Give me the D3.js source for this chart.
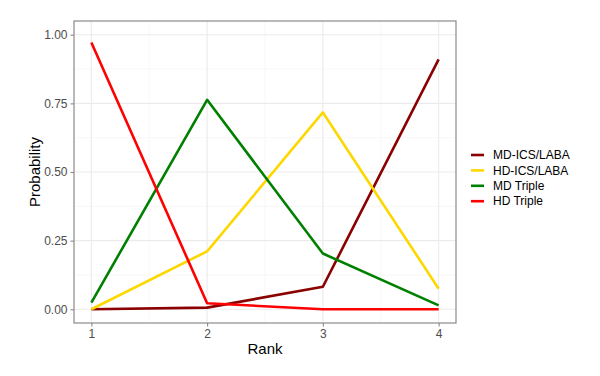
<!DOCTYPE html>
<html>
<head>
<meta charset="utf-8">
<script src="https://cdn.jsdelivr.net/npm/d3@7"></script>
<style>
  body { margin: 0; background: #fff; }
  text { font-family: "Liberation Sans", Arial, sans-serif; }
</style>
</head>
<body>
<div id="chart"></div>
<script>
// data
const ranks = [1, 2, 3, 4];
const seriesNames = ["MD-ICS/LABA", "HD-ICS/LABA", "MD Triple", "HD Triple"];
const seriesColors = ["#8B0000", "#FFD700", "#008000", "#FF0000"];
const mdIcsLaba = [0.000, 0.006, 0.082, 0.910];
const hdIcsLaba = [0.000, 0.211, 0.717, 0.075];
const mdTriple = [0.024, 0.763, 0.203, 0.014];
const hdTriple = [0.972, 0.022, 0.000, 0.000];
const yTicks = [0, 0.25, 0.5, 0.75, 1];

const seriesValues = [mdIcsLaba, hdIcsLaba, mdTriple, hdTriple];

const width = 600, height = 376;
const margin = {top: 21, right: 144, bottom: 53, left: 74};
const pw = width - margin.left - margin.right;
const ph = height - margin.top - margin.bottom;

const svg = d3.select("#chart").append("svg")
    .attr("width", width)
    .attr("height", height);

const g = svg.append("g")
    .attr("transform", `translate(${margin.left},${margin.top})`);

// ggplot-style expansion of 5%
const x = d3.scaleLinear().domain([0.85, 4.15]).range([0, pw]);
const y = d3.scaleLinear().domain([-0.05, 1.05]).range([ph, 0]);

// minor grid
const xMinor = [1.5, 2.5, 3.5];
const yMinor = [0.125, 0.375, 0.625, 0.875];
g.selectAll(".xminor").data(xMinor).enter().append("line")
    .attr("x1", d => x(d)).attr("x2", d => x(d))
    .attr("y1", 0).attr("y2", ph)
    .attr("stroke", "#f2f2f2").attr("stroke-width", 0.6);
g.selectAll(".yminor").data(yMinor).enter().append("line")
    .attr("y1", d => y(d)).attr("y2", d => y(d))
    .attr("x1", 0).attr("x2", pw)
    .attr("stroke", "#f2f2f2").attr("stroke-width", 0.6);

// major grid
g.selectAll(".xmajor").data(ranks).enter().append("line")
    .attr("x1", d => x(d)).attr("x2", d => x(d))
    .attr("y1", 0).attr("y2", ph)
    .attr("stroke", "#ebebeb").attr("stroke-width", 1.1);
g.selectAll(".ymajor").data(yTicks).enter().append("line")
    .attr("y1", d => y(d)).attr("y2", d => y(d))
    .attr("x1", 0).attr("x2", pw)
    .attr("stroke", "#ebebeb").attr("stroke-width", 1.1);

// lines
const line = d3.line()
    .x((d, i) => x(ranks[i]))
    .y(d => y(d));

seriesValues.forEach((vals, i) => {
    g.append("path")
        .datum(vals)
        .attr("d", line)
        .attr("fill", "none")
        .attr("stroke", seriesColors[i])
        .attr("stroke-width", 2.6)
        .attr("stroke-linejoin", "round");
});

// panel border
g.append("rect")
    .attr("width", pw).attr("height", ph)
    .attr("fill", "none")
    .attr("stroke", "#8a8a8a").attr("stroke-width", 1.2);

// axes
const xAxis = g.append("g")
    .attr("transform", `translate(0,${ph})`)
    .call(d3.axisBottom(x).tickValues(ranks).tickFormat(d3.format("d")).tickSize(3.5).tickPadding(3));
const yAxis = g.append("g")
    .call(d3.axisLeft(y).tickValues(yTicks).tickFormat(d3.format(".2f")).tickSize(3.5).tickPadding(3));

[xAxis, yAxis].forEach(a => {
    a.select(".domain").remove();
    a.selectAll(".tick line").attr("stroke", "#8a8a8a").attr("stroke-width", 1.1);
    a.selectAll(".tick text")
        .attr("fill", "#4d4d4d")
        .style("font-size", "12px")
        .style("font-family", "'Liberation Sans', Arial, sans-serif");
});

// axis titles
svg.append("text")
    .attr("x", margin.left + pw / 2)
    .attr("y", 354)
    .attr("text-anchor", "middle")
    .style("font-size", "15px")
    .attr("fill", "#000")
    .text("Rank");

svg.append("text")
    .attr("transform", `translate(39.5,${margin.top + ph / 2}) rotate(-90)`)
    .attr("text-anchor", "middle")
    .style("font-size", "15px")
    .attr("fill", "#000")
    .text("Probability");

// legend
const legend = svg.append("g")
    .attr("transform", "translate(471,155)");

const items = legend.selectAll(".item").data(seriesNames).enter().append("g")
    .attr("transform", (d, i) => `translate(0,${i * 15.4})`);

items.append("line")
    .attr("x1", 0).attr("x2", 13)
    .attr("y1", 0).attr("y2", 0)
    .attr("stroke", (d, i) => seriesColors[i])
    .attr("stroke-width", 2.6);

items.append("text")
    .attr("x", 22)
    .attr("y", 0)
    .attr("dy", "0.35em")
    .style("font-size", "12px")
    .attr("fill", "#000")
    .text(d => d);
</script>
</body>
</html>
